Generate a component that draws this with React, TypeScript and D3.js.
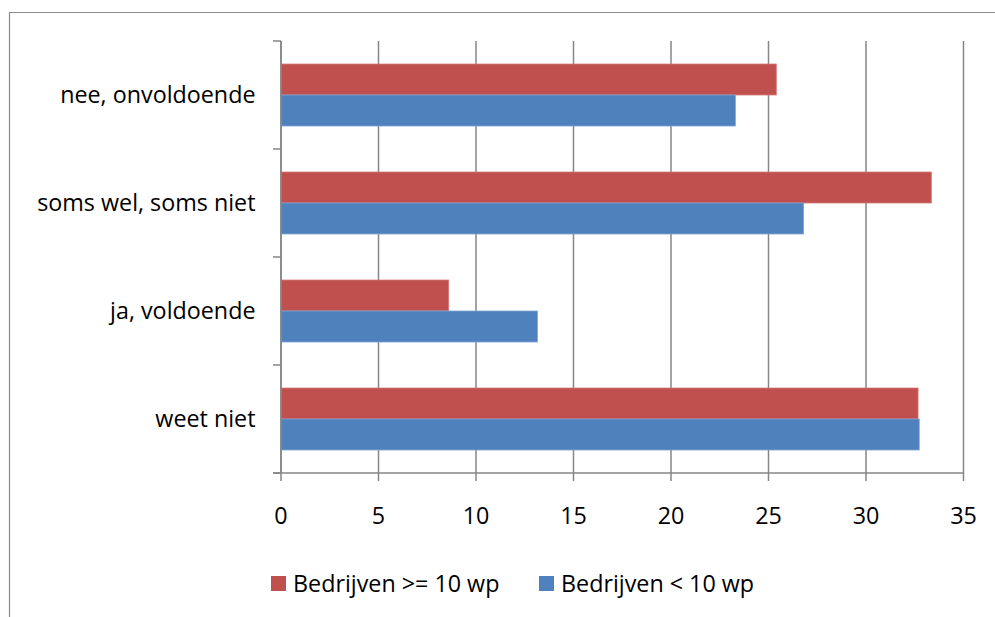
import React from "react";
import * as d3 from "d3";

// Survey answers, listed top to bottom as they appear on the axis
const categories = ["nee, onvoldoende", "soms wel, soms niet", "ja, voldoende", "weet niet"];
const seriesNames = ["Bedrijven >= 10 wp", "Bedrijven < 10 wp"];
const largeFirms = [25.4, 33.35, 8.6, 32.67];
const smallFirms = [23.3, 26.8, 13.15, 32.73];
const xTicks = [0, 5, 10, 15, 20, 25, 30, 35];
const seriesColors = ["#C0504D", "#4F81BD"];

const W = 995;
const H = 617;
const FONT = "'Open Sans', 'Noto Sans', sans-serif";
const AXIS = "#868686";
const FS = 23.3;

export default function App() {
  const x = d3.scaleLinear().domain([0, 35]).range([281, 963.5]);
  const p = 0.426;
  const y = d3
    .scaleBand<string>()
    .domain(categories)
    .range([41, 473])
    .paddingInner(p)
    .paddingOuter(p / 2);
  const sub = d3
    .scaleBand<string>()
    .domain(seriesNames)
    .range([0, y.bandwidth()]);
  const values = [largeFirms, smallFirms];
  const step = y.step();
  const bounds = d3.range(categories.length + 1).map((i) => 41 + i * step);
  const [y0, y1] = y.range();

  return (
    <svg
      width={W}
      height={H}
      style={{ position: "absolute", left: 0, top: 0, background: "#fff" }}
      fontFamily={FONT}
    >
      <rect x={0} y={0} width={W} height={H} fill="#fff" />
      {/* chart frame */}
      <path d={`M9.5,${H} V12.5 H${W}`} fill="none" stroke="#8c8c8c" strokeWidth={1.2} />

      {/* vertical gridlines and x tick marks */}
      {xTicks.map((t) => (
        <line
          key={"g" + t}
          x1={x(t)}
          x2={x(t)}
          y1={y0}
          y2={y1 + 8}
          stroke={AXIS}
          strokeWidth={1.5}
        />
      ))}

      {/* bars */}
      {seriesNames.map((s, si) =>
        categories.map((c, ci) => (
          <rect
            key={s + c}
            x={x(0)}
            y={(y(c) as number) + (sub(s) as number)}
            width={x(values[si][ci]) - x(0)}
            height={sub.bandwidth()}
            fill={seriesColors[si]}
            stroke={si === 0 ? "#d47a77" : "#7fa3d3"}
            strokeWidth={0.8}
          />
        ))
      )}

      {/* category axis */}
      <line x1={x(0)} x2={x(0)} y1={y0} y2={y1} stroke={AXIS} strokeWidth={1.5} />
      {bounds.map((b, i) => (
        <line key={"ct" + i} x1={273} x2={x(0)} y1={b} y2={b} stroke={AXIS} strokeWidth={1.5} />
      ))}
      {/* value axis */}
      <line x1={273} x2={x(35)} y1={y1} y2={y1} stroke={AXIS} strokeWidth={1.5} />

      {/* category labels */}
      {categories.map((c) => (
        <text
          key={"cl" + c}
          x={255.5}
          y={(y(c) as number) + y.bandwidth() / 2 + 8}
          textAnchor="end"
          fontSize={FS}
          fill="#000"
        >
          {c}
        </text>
      ))}

      {/* value tick labels */}
      {xTicks.map((t) => (
        <text key={"xl" + t} x={x(t)} y={524} textAnchor="middle" fontSize={FS} fill="#000">
          {t}
        </text>
      ))}

      {/* legend */}
      {seriesNames.map((s, i) => {
        const lx = [271, 539][i];
        return (
          <g key={"lg" + s}>
            <rect x={lx} y={576} width={15} height={15} fill={seriesColors[i]} />
            <text x={lx + 22} y={591.5} fontSize={FS} fill="#000">
              {s}
            </text>
          </g>
        );
      })}
    </svg>
  );
}
